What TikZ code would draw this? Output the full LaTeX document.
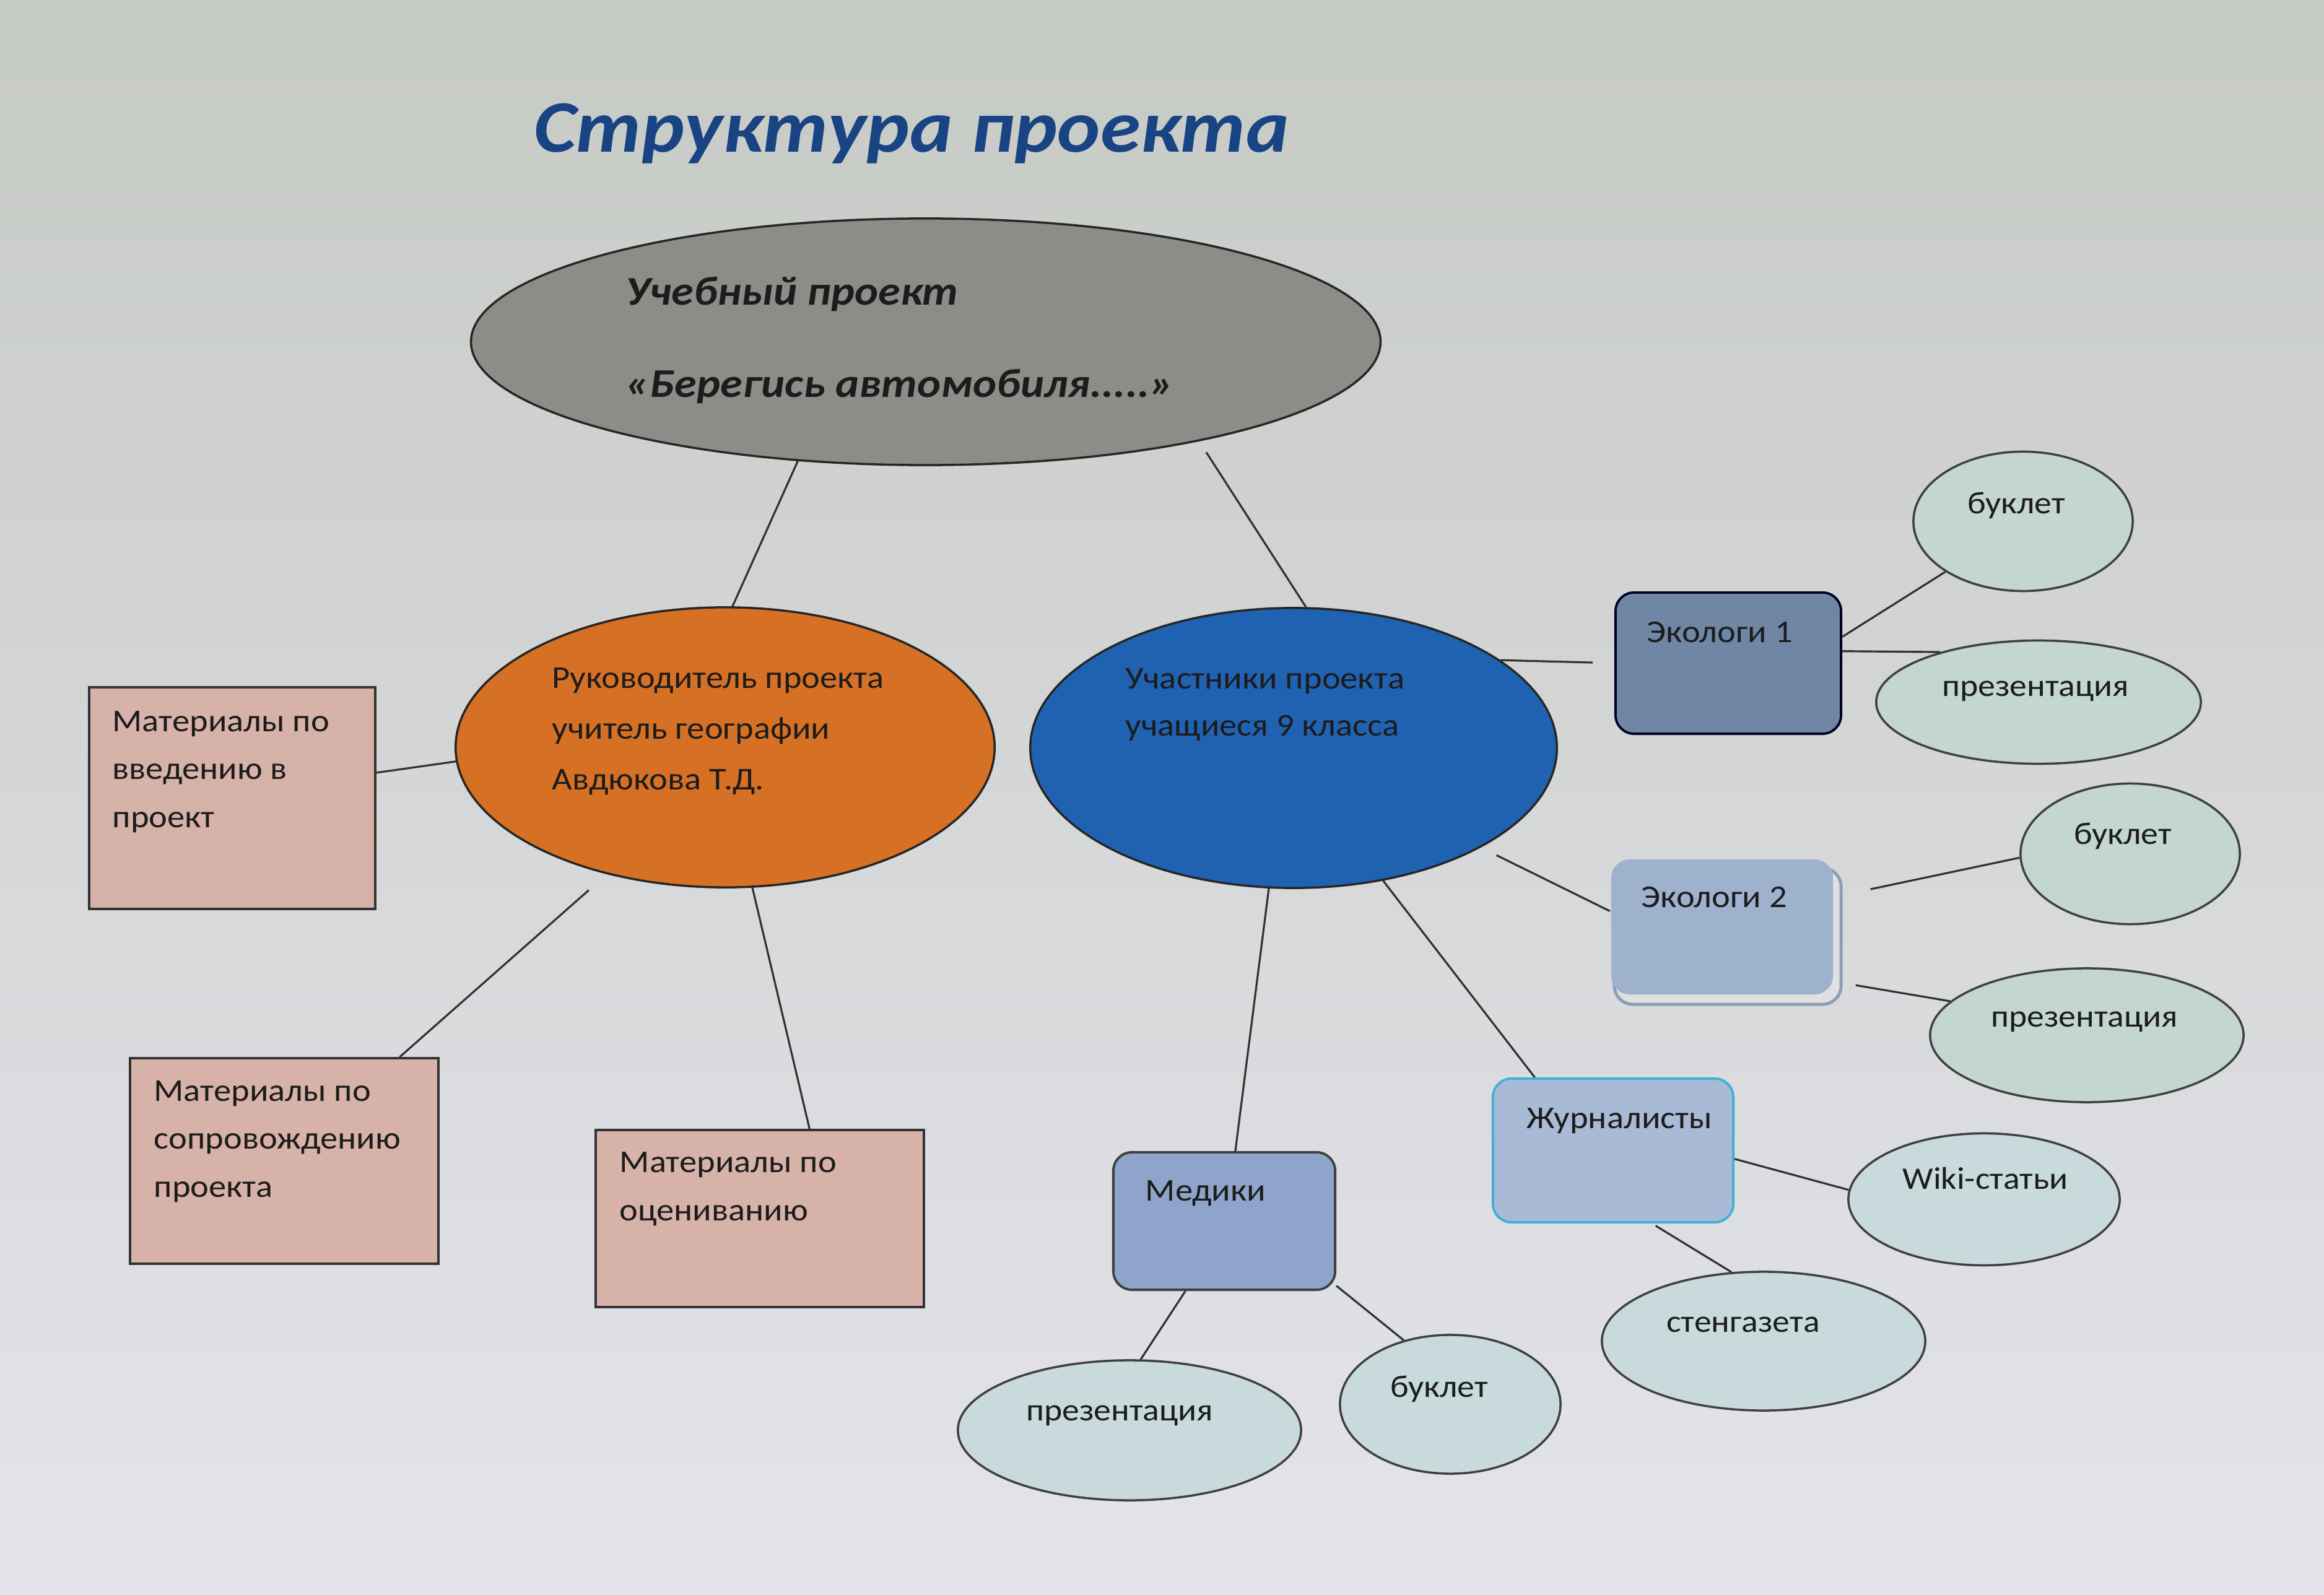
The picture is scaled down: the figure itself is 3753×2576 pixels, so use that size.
\documentclass[tikz,border=0pt]{standalone}
\usepackage{fontspec}
\setmainfont{Carlito}[FakeStretch=1.1]
\usetikzlibrary{shapes.geometric}
\definecolor{bgtop}{RGB}{198,202,196}
\definecolor{bgbot}{RGB}{228,228,235}
\definecolor{titlec}{RGB}{24,68,132}
\definecolor{textc}{RGB}{28,28,28}
\definecolor{linec}{RGB}{48,50,50}
\definecolor{topfill}{RGB}{140,141,136}
\definecolor{orfill}{RGB}{214,112,36}
\definecolor{blfill}{RGB}{32,98,178}
\definecolor{pinkfill}{RGB}{214,178,168}
\definecolor{ekfillA}{RGB}{111,134,165}
\definecolor{ekfillB}{RGB}{158,178,206}
\definecolor{medfill}{RGB}{142,164,202}
\definecolor{jrfill}{RGB}{168,186,214}
\definecolor{jrdraw}{RGB}{64,176,216}
\definecolor{smfill}{RGB}{196,214,208}
\definecolor{smfillB}{RGB}{200,218,220}
\begin{document}
\begin{tikzpicture}[x=0.01cm,y=-0.01cm,
  bigell/.style={ellipse, draw=black!85, line width=1pt, inner sep=0pt},
  matbox/.style={rectangle, draw=black!80, line width=1pt, fill=pinkfill, inner sep=0pt},
  grpbox/.style={rectangle, rounded corners=0.3cm, line width=1.1pt, inner sep=0pt},
  smell/.style={ellipse, draw=black!75, line width=1pt, fill=smfill, inner sep=0pt},
  txt/.style={inner sep=0pt, text=textc, font=\fontsize{14.6}{22.5}\selectfont, align=left, anchor=base west},
  ctxt/.style={inner sep=0pt, text=textc, font=\fontsize{14.4}{22.5}\selectfont, anchor=base},
  conn/.style={draw=linec, line width=0.9pt}
]
\shade[top color=bgtop, bottom color=bgbot] (0,0) rectangle (3753,2576);
\useasboundingbox (0,0) rectangle (3753,2576);

% title
\node[inner sep=0pt, anchor=base west, text=titlec, font=\fontsize{34}{40}\selectfont\bfseries\itshape] (title) at (862,246) {Структура проекта};

% main ellipses
\node[bigell, fill=topfill, minimum width=14.68cm, minimum height=3.98cm] (top) at (1495,552) {};
\node[bigell, fill=orfill, minimum width=8.7cm, minimum height=4.52cm] (or) at (1171,1207) {};
\node[bigell, fill=blfill, minimum width=8.5cm, minimum height=4.52cm] (bl) at (2089,1208) {};

% multi-line texts: anchor is the baseline of the last line
\node[inner sep=0pt, anchor=base west, text=textc, align=left, font=\fontsize{18.7}{42.4}\selectfont\bfseries\itshape] (toptxt) at (1010,642) {Учебный проект\\«Берегись автомобиля.....»};
\node[txt, font=\fontsize{14.6}{23.3}\selectfont] (ortxt) at (891,1275) {Руководитель проекта\\учитель географии\\Авдюкова Т.Д.};
\node[txt, font=\fontsize{14.6}{21.5}\selectfont] (bltxt) at (1817,1188) {Участники проекта\\учащиеся 9 класса};

% material boxes
\node[matbox, minimum width=4.62cm, minimum height=3.58cm] (box1) at (375,1289) {};
\node[matbox, minimum width=4.98cm, minimum height=3.32cm] (box2) at (459,1875) {};
\node[matbox, minimum width=5.30cm, minimum height=2.86cm] (box3) at (1227,1968) {};
\node[txt, font=\fontsize{14.6}{22}\selectfont] (box1txt) at (181,1336) {Материалы по\\введению в\\проект};
\node[txt, font=\fontsize{14.6}{22}\selectfont] (box2txt) at (248,1933) {Материалы по\\сопровождению\\проекта};
\node[txt, font=\fontsize{14.6}{22}\selectfont] (box3txt) at (1000,1971) {Материалы по\\оцениванию};

% group boxes
\node[grpbox, fill=ekfillA, draw=black!75!blue!60!black, minimum width=3.64cm, minimum height=2.28cm] (ek1) at (2791,1071) {};
\node[grpbox, fill=black!12!white, draw=ekfillA!80, line width=1.4pt, minimum width=3.66cm, minimum height=2.20cm] (ek2sh) at (2790,1512) {};
\node[grpbox, fill=ekfillB, draw=none, minimum width=3.58cm, minimum height=2.18cm] (ek2) at (2781,1497) {};
\node[grpbox, fill=medfill, draw=black!75, minimum width=3.58cm, minimum height=2.22cm] (med) at (1977,1972) {};
\node[grpbox, fill=jrfill, draw=jrdraw, minimum width=3.88cm, minimum height=2.32cm] (jr) at (2605,1858) {};
\node[txt] (ek1txt) at (2659,1037) {Экологи 1};
\node[txt] (ek2txt) at (2650,1465) {Экологи 2};
\node[txt] (medtxt) at (1849,1939) {Медики};
\node[txt] (jrtxt) at (2465,1822) {Журналисты};

% small ellipses
\node[smell, minimum width=3.54cm, minimum height=2.25cm] (b1) at (3267,842) {};
\node[smell, minimum width=5.24cm, minimum height=1.99cm] (p1) at (3292,1134) {};
\node[smell, minimum width=3.54cm, minimum height=2.27cm] (b2) at (3440,1379) {};
\node[smell, minimum width=5.06cm, minimum height=2.16cm] (p2) at (3370,1672) {};
\node[smell, fill=smfillB, minimum width=4.38cm, minimum height=2.13cm] (wk) at (3204,1937) {};
\node[smell, fill=smfillB, minimum width=5.22cm, minimum height=2.24cm] (sg) at (2848,2166) {};
\node[smell, fill=smfillB, minimum width=5.54cm, minimum height=2.26cm] (pm) at (1824,2310) {};
\node[smell, fill=smfillB, minimum width=3.56cm, minimum height=2.24cm] (bm) at (2342,2268) {};
\node[ctxt] (b1txt) at (3256,830) {буклет};
\node[ctxt] (p1txt) at (3287,1124) {презентация};
\node[ctxt] (b2txt) at (3428,1363) {буклет};
\node[ctxt] (p2txt) at (3366,1658) {презентация};
\node[ctxt] (wktxt) at (3206,1920) {Wiki-статьи};
\node[ctxt] (sgtxt) at (2815,2151) {стенгазета};
\node[ctxt] (pmtxt) at (1808,2294) {презентация};
\node[ctxt] (bmtxt) at (2324,2256) {буклет};

% connectors
\draw[conn] (top.-137) -- (or.87);
\draw[conn, shorten <=6pt] (top.-20) -- (bl.85);
\draw[conn] (or.-177) -- (box1.10);
\draw[conn, shorten <=11pt] (or.-133) -- (box2.42);
\draw[conn] (or.-79) -- (box3.61);
\draw[conn, shorten >=10pt] (bl.23) -- (ek1.west);
\draw[conn, shorten <=8pt] (bl.-28) -- (ek2.172);
\draw[conn] (bl.-100) -- (med.81);
\draw[conn] (bl.-56) -- (jr.137);
\draw[conn] (ek1.13) -- (b1.-147);
\draw[conn] (ek1.6) -- (p1.153);
\draw[conn, shorten <=17pt] (ek2.15) -- (b2.182);
\draw[conn, shorten <=10pt] (ek2.-26) -- (p2.166);
\draw[conn] (jr.-4) -- (wk.176);
\draw[conn, shorten <=2pt] (jr.-62) -- (sg.115);
\draw[conn] (med.-119) -- (pm.81);
\draw[conn] (med.-30) -- (bm.126);
\end{tikzpicture}
\end{document}
